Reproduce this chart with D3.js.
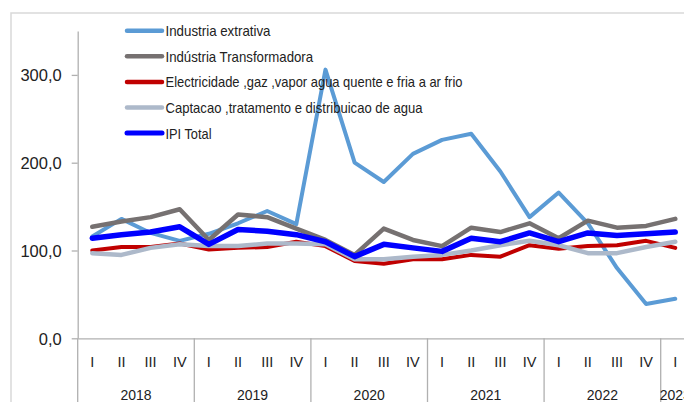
<!DOCTYPE html>
<html><head><meta charset="utf-8">
<script src="https://cdn.jsdelivr.net/npm/d3@7"></script>
<style>
html,body{margin:0;padding:0;background:#fff;overflow:hidden}
svg{display:block}
</style></head>
<body>
<svg id="chart" width="684" height="402"></svg>
<script>
// ---- data ----
const quarters = ["I","II","III","IV","I","II","III","IV","I","II","III","IV","I","II","III","IV","I","II","III","IV","I"];
const years = ["2018","2019","2020","2021","2022","2023"];
const yearQuarters = [4,4,4,4,4,1];
const seriesNames = ["Industria extrativa","Indústria Transformadora","Electricidade ,gaz ,vapor agua quente e fria a ar frio","Captacao ,tratamento e distribuicao de agua","IPI Total"];
const extrativa      = [116,136,120,111,119,131,145,130,306,200,178,210,226,233,190,138,166,131,80,39,45];
const transformadora = [127,133,138,147,112,141,138,125,112,95,125,112,105,126,121,131,114,134,126,128,136];
const electricidade  = [100,104,104,108,101,103,104,110,105,88,85,90,90,95,93,106,102,105,106,111,103];
const captacao       = [97,95,103,107,105,105,108,108,107,90,90,93,95,100,106,111,106,97,97,104,110];
const ipiTotal       = [114,118,121,127,107,124,122,118,110,93,107,103,99,114,110,120,110,120,117,119,121];
const yTicks = [0,100,200,300];

(function(){
const colors = ["#5B9BD5","#767171","#C00000","#ADB9CA","#0000FF"];
const widths = [4,4.5,4,4.5,5.5];
const allSeries = [extrativa, transformadora, electricidade, captacao, ipiTotal];

const svg = d3.select("#chart");
const mLeft = 77.7, step = 29.15, mTop = 31, mBottom = 338.3;
const n = quarters.length;

// frame
svg.append("rect").attr("x",11).attr("y",13).attr("width",700).attr("height",420)
  .attr("fill","none").attr("stroke","#d9d9d9").attr("stroke-width",1.5);

const x = d3.scaleBand().domain(d3.range(n)).range([mLeft, mLeft + n*step]).padding(0);
const y = d3.scaleLinear().domain([0,350]).range([mBottom, mTop]);

const fontTick = "'Liberation Sans', Arial, sans-serif";
const fontNarrow = "'Liberation Sans Narrow', 'Liberation Sans', Arial, sans-serif";

// y axis
const yAxis = d3.axisLeft(y).tickValues(yTicks).tickSize(6).tickSizeOuter(0).tickPadding(10)
  .tickFormat(d => d3.format(".1f")(d).replace(".", ","));
const gy = svg.append("g").attr("transform",`translate(${mLeft},0)`).call(yAxis);
gy.select(".domain").attr("stroke","#b0b0b0").attr("stroke-width",1.3);
gy.selectAll(".tick line").attr("stroke","#b0b0b0").attr("stroke-width",1.3);
gy.selectAll(".tick text").attr("font-family",fontTick).attr("font-size","16.5px").attr("fill","#222")
  .attr("dy","0.35em");

// x axis baseline + quarter labels
const xAxis = d3.axisBottom(x).tickSize(0).tickPadding(18).tickFormat(i => quarters[i]);
const gx = svg.append("g").attr("transform",`translate(0,${mBottom})`).call(xAxis);
gx.select(".domain").attr("stroke","#b0b0b0").attr("stroke-width",1.3);
gx.selectAll(".tick text").attr("font-family",fontNarrow).attr("font-size","14.5px").attr("fill","#222");

// year separators & labels
let acc = 0;
const yearStarts = yearQuarters.map(q => { const s = acc; acc += q; return s; });
svg.append("g").selectAll("line").data(yearStarts).join("line")
  .attr("x1", i => x(i)).attr("x2", i => x(i))
  .attr("y1", mBottom).attr("y2", 410)
  .attr("stroke","#b0b0b0").attr("stroke-width",1.3);
svg.append("g").selectAll("text").data(years).join("text")
  .attr("x",(d,k) => x(yearStarts[k]) + yearQuarters[k]*x.bandwidth()/2)
  .attr("y", 400)
  .attr("text-anchor","middle")
  .attr("font-family",fontNarrow).attr("font-size","14px").attr("fill","#222")
  .text(d => d);

// lines
const line = d3.line().x((d,i) => x(i) + x.bandwidth()/2).y(d => y(d));
svg.append("g").selectAll("path").data(allSeries).join("path")
  .attr("d", d => line(d))
  .attr("fill","none")
  .attr("stroke",(d,k) => colors[k])
  .attr("stroke-width",(d,k) => widths[k])
  .attr("stroke-linejoin","round").attr("stroke-linecap","round");

// legend
const legendWidths = [105,147.6,297,257,46];
const lg = svg.append("g").selectAll("g").data(seriesNames).join("g")
  .attr("transform",(d,k) => `translate(0,${30.7 + k*25.6})`);
lg.append("line").attr("x1",127).attr("x2",162).attr("y1",0).attr("y2",0)
  .attr("stroke",(d,k) => colors[k]).attr("stroke-width",(d,k) => k===4?5:4.5)
  .attr("stroke-linecap","round");
lg.append("text").attr("x",165.5).attr("y",0).attr("dy","0.36em")
  .attr("font-family",fontNarrow).attr("font-size","15px").attr("fill","#222")
  .attr("textLength",(d,k) => legendWidths[k]).attr("lengthAdjust","spacingAndGlyphs")
  .text(d => d);
})();
</script>
</body></html>
